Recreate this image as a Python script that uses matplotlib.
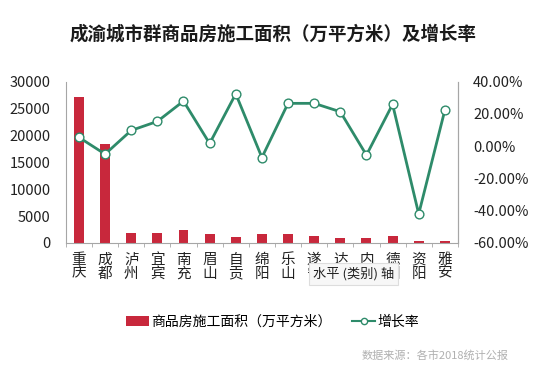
import numpy as np
import matplotlib.pyplot as plt
from matplotlib.lines import Line2D
from matplotlib.ticker import FixedLocator, FuncFormatter

plt.rcParams['font.family'] = ['Noto Sans CJK SC', 'DejaVu Sans']

cities = ['重庆', '成都', '泸州', '宜宾', '南充', '眉山', '自贡', '绵阳',
          '乐山', '遂宁', '达州', '内江', '德阳', '资阳', '雅安']
area = [27100, 18400, 1800, 1800, 2400, 1600, 1150, 1600,
        1600, 1300, 950, 950, 1300, 280, 280]
growth = [5.5, -4.9, 9.8, 15.4, 28.0, 1.7, 32.5, -7.0,
          26.6, 26.6, 21.4, -5.5, 26.0, -42.0, 22.4]

bar_color = '#C8283C'
line_color = '#2E8B6A'
axis_gray = '#A6A6A6'

fig = plt.figure(figsize=(5.4, 3.82), dpi=100)
ax = fig.add_axes([0.122, 0.364, 0.726, 0.422])
x = np.arange(len(cities))

bars = ax.bar(x, area, width=0.38, color=bar_color, zorder=2)
ax.set_xlim(-0.5, len(cities) - 0.5)
ax.set_ylim(0, 30000)
ax.set_yticks(range(0, 30001, 5000))
ax.tick_params(axis='y', length=0, pad=11, labelsize=10.5, colors='#222222')

ax.set_xticks(x)
ax.set_xticklabels(['\n'.join(c) for c in cities], fontsize=10.5,
                   linespacing=1.0, color='#222222')
ax.tick_params(axis='x', which='major', length=0, pad=7)
ax.xaxis.set_minor_locator(FixedLocator(np.arange(-0.5, len(cities), 1.0)))
ax.tick_params(axis='x', which='minor', length=3, color=axis_gray)

ax.spines['top'].set_visible(False)
for s in ['left', 'bottom', 'right']:
    ax.spines[s].set_color(axis_gray)
    ax.spines[s].set_linewidth(0.8)

ax2 = ax.twinx()
ax2.plot(x, growth, color=line_color, lw=2, marker='o', ms=6.3,
         mfc='white', mec=line_color, mew=1, zorder=3)
ax2.set_ylim(-60, 40)
ax2.set_yticks(range(-60, 41, 20))
ax2.yaxis.set_major_formatter(FuncFormatter(lambda v, p: f'{v:.2f}%'))
ax2.tick_params(axis='y', length=0, pad=11, labelsize=10.5, colors='#222222')
for s in ['top', 'left', 'bottom']:
    ax2.spines[s].set_visible(False)
ax2.spines['right'].set_color(axis_gray)
ax2.spines['right'].set_linewidth(0.8)

fig.text(0.505, 0.91, '成渝城市群商品房施工面积（万平方米）及增长率',
         ha='center', va='center', fontsize=13.3, fontweight='bold', color='#1a1a1a')

line_handle = Line2D([], [], color=line_color, lw=1.5, marker='o', ms=4.5,
                     mfc='white', mec=line_color, mew=1)
fig.legend([bars, line_handle], ['商品房施工面积（万平方米）', '增长率'],
           loc='center', bbox_to_anchor=(0.505, 0.157), ncol=2, frameon=False,
           fontsize=10, handlelength=1.6, handletextpad=0.2, columnspacing=1.5)

fig.text(0.942, 0.07, '数据来源：各市2018统计公报', ha='right', va='center',
         fontsize=8, color='#B0B0B0')

fig.text(0.655, 0.283, '水平 (类别) 轴', ha='center', va='center', fontsize=9.5,
         color='#222222',
         bbox=dict(boxstyle='square,pad=0.3', fc='#F7F7F7', ec='#DDDDDD', lw=0.8))

fig.savefig('out.png', dpi=100)
